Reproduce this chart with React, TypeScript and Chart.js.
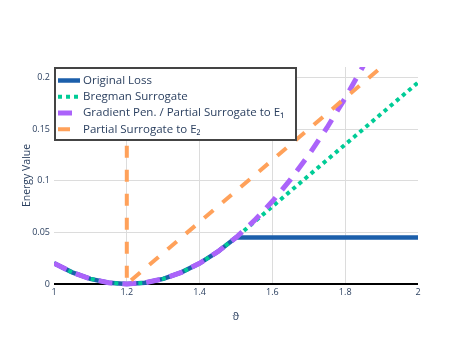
import React, { useEffect, useRef } from 'react';
import { Chart, registerables } from 'chart.js';
Chart.register(...registerables);

// ---- data ----
const xQuad = [1, 1.05, 1.1, 1.15, 1.2, 1.25, 1.3, 1.35, 1.4, 1.45, 1.5];
const yQuad = [0.02, 0.01125, 0.005, 0.00125, 0, 0.00125, 0.005, 0.01125, 0.02, 0.03125, 0.045];

const xOriginalTail = [1.75, 2];
const yOriginalTail = [0.045, 0.045];

const xBregmanTail = [1.75, 2];
const yBregmanTail = [0.12, 0.195];

const xGradTail = [1.55, 1.6, 1.65, 1.7, 1.75, 1.8, 1.85, 1.9];
const yGradTail = [0.06125, 0.08, 0.10125, 0.125, 0.15125, 0.18, 0.21125, 0.245];

const xPartialE2 = [1.2, 1.2, 2];
const yPartialE2 = [0.25, 0, 0.24];

const seriesLabels = [
  'Original Loss',
  'Bregman Surrogate',
  'Gradient Pen. / Partial Surrogate to E\u2081',
  'Partial Surrogate to E\u2082',
];

const xTicks = [1, 1.2, 1.4, 1.6, 1.8, 2];
const xTickLabels = ['1', '1.2', '1.4', '1.6', '1.8', '2'];
const yTicks = [0, 0.05, 0.1, 0.15, 0.2];
const yTickLabels = ['0', '0.05', '0.1', '0.15', '0.2'];

const xTitle = '\u03D1';
const yTitle = 'Energy Value';

const toPts = (xs: number[], ys: number[]) => xs.map((x, i) => ({ x, y: ys[i] }));

const TEXT = '#2a3f5f';
const GRID = '#dcdcdc';

const boxLegend = {
  id: 'boxLegend',
  afterDatasetsDraw(chart: any) {
    const ctx = chart.ctx as CanvasRenderingContext2D;
    ctx.save();
    ctx.fillStyle = '#ffffff';
    ctx.fillRect(55, 68, 241, 72);
    ctx.lineWidth = 2;
    ctx.strokeStyle = '#444444';
    ctx.strokeRect(55, 68, 241, 72);
    chart.data.datasets.forEach((ds: any, i: number) => {
      const cy = 80.5 + i * 16.25;
      ctx.beginPath();
      ctx.setLineDash(ds.borderDash || []);
      ctx.lineWidth = ds.borderWidth;
      ctx.strokeStyle = ds.borderColor;
      ctx.lineCap = 'butt';
      ctx.moveTo(58, cy);
      ctx.lineTo(80, cy);
      ctx.stroke();
      ctx.setLineDash([]);
      ctx.fillStyle = TEXT;
      ctx.font = '11.5px "Open Sans"';
      ctx.textBaseline = 'middle';
      ctx.textAlign = 'left';
      ctx.fillText(ds.label, 83, cy);
    });
    ctx.restore();
  },
};

export default function App() {
  const ref = useRef<HTMLCanvasElement>(null);
  useEffect(() => {
    const clip = { left: 0, right: 0, top: 0, bottom: 4 };
    const chart = new Chart(ref.current!, {
      type: 'line',
      data: {
        datasets: [
          {
            label: seriesLabels[0],
            data: toPts([...xQuad, ...xOriginalTail], [...yQuad, ...yOriginalTail]),
            borderColor: '#1c5fab',
            borderWidth: 4.5,
            pointRadius: 0,
            order: 4,
            clip,
          },
          {
            label: seriesLabels[1],
            data: toPts([...xQuad, ...xBregmanTail], [...yQuad, ...yBregmanTail]),
            borderColor: '#00cc96',
            borderWidth: 4,
            borderDash: [4, 4],
            pointRadius: 0,
            order: 3,
            clip,
          },
          {
            label: seriesLabels[2],
            data: toPts([...xQuad, ...xGradTail], [...yQuad, ...yGradTail]),
            borderColor: '#ab63fa',
            borderWidth: 5,
            borderDash: [14, 10],
            pointRadius: 0,
            order: 2,
            clip,
          },
          {
            label: seriesLabels[3],
            data: toPts(xPartialE2, yPartialE2),
            borderColor: '#ffa15a',
            borderWidth: 4,
            borderDash: [12, 12],
            pointRadius: 0,
            order: 1,
            clip,
          },
        ] as any,
      },
      options: {
        animation: false,
        responsive: false,
        devicePixelRatio: 1,
        layout: { padding: { left: 0, right: 58, top: 67, bottom: 0 } },
        plugins: { legend: { display: false }, tooltip: { enabled: false } },
        elements: { line: { tension: 0, fill: false } },
        scales: {
          x: {
            type: 'linear',
            min: 1,
            max: 2,
            afterBuildTicks: (s: any) => {
              s.ticks = xTicks.map((v) => ({ value: v }));
            },
            afterFit: (s: any) => {
              s.height = 57;
            },
            border: { display: false },
            grid: {
              drawTicks: false,
              color: (c: any) => (c.tick && (c.tick.value === 1 || c.tick.value === 2) ? 'rgba(0,0,0,0)' : GRID),
              lineWidth: 1,
            },
            ticks: {
              padding: 3,
              maxRotation: 0,
              color: TEXT,
              font: { family: '"Open Sans"', size: 9 },
              callback: (_v: any, i: number) => xTickLabels[i],
            },
            title: {
              display: true,
              text: xTitle,
              color: TEXT,
              font: { family: '"Open Sans"', size: 11 },
              padding: { top: 0, bottom: 18 },
            },
          },
          y: {
            type: 'linear',
            min: 0,
            max: 0.21,
            afterBuildTicks: (s: any) => {
              s.ticks = yTicks.map((v) => ({ value: v }));
            },
            afterFit: (s: any) => {
              s.width = 54;
            },
            border: { display: false },
            grid: {
              drawTicks: false,
              color: (c: any) => (c.tick && c.tick.value === 0 ? '#000000' : GRID),
              lineWidth: (c: any) => (c.tick && c.tick.value === 0 ? 2 : 1),
            },
            ticks: {
              padding: 4,
              color: TEXT,
              font: { family: '"Open Sans"', size: 9 },
              callback: (_v: any, i: number) => yTickLabels[i],
            },
            title: {
              display: true,
              text: yTitle,
              color: TEXT,
              font: { family: '"Open Sans"', size: 10.5 },
              padding: { top: 20.7, bottom: 0 },
            },
          },
        },
      } as any,
      plugins: [boxLegend],
    });
    return () => chart.destroy();
  }, []);
  return (
    <div style={{ position: 'absolute', left: 0, top: 0, width: 476, height: 341, background: '#fff' }}>
      <canvas ref={ref} width={476} height={341} style={{ display: 'block' }} />
    </div>
  );
}
